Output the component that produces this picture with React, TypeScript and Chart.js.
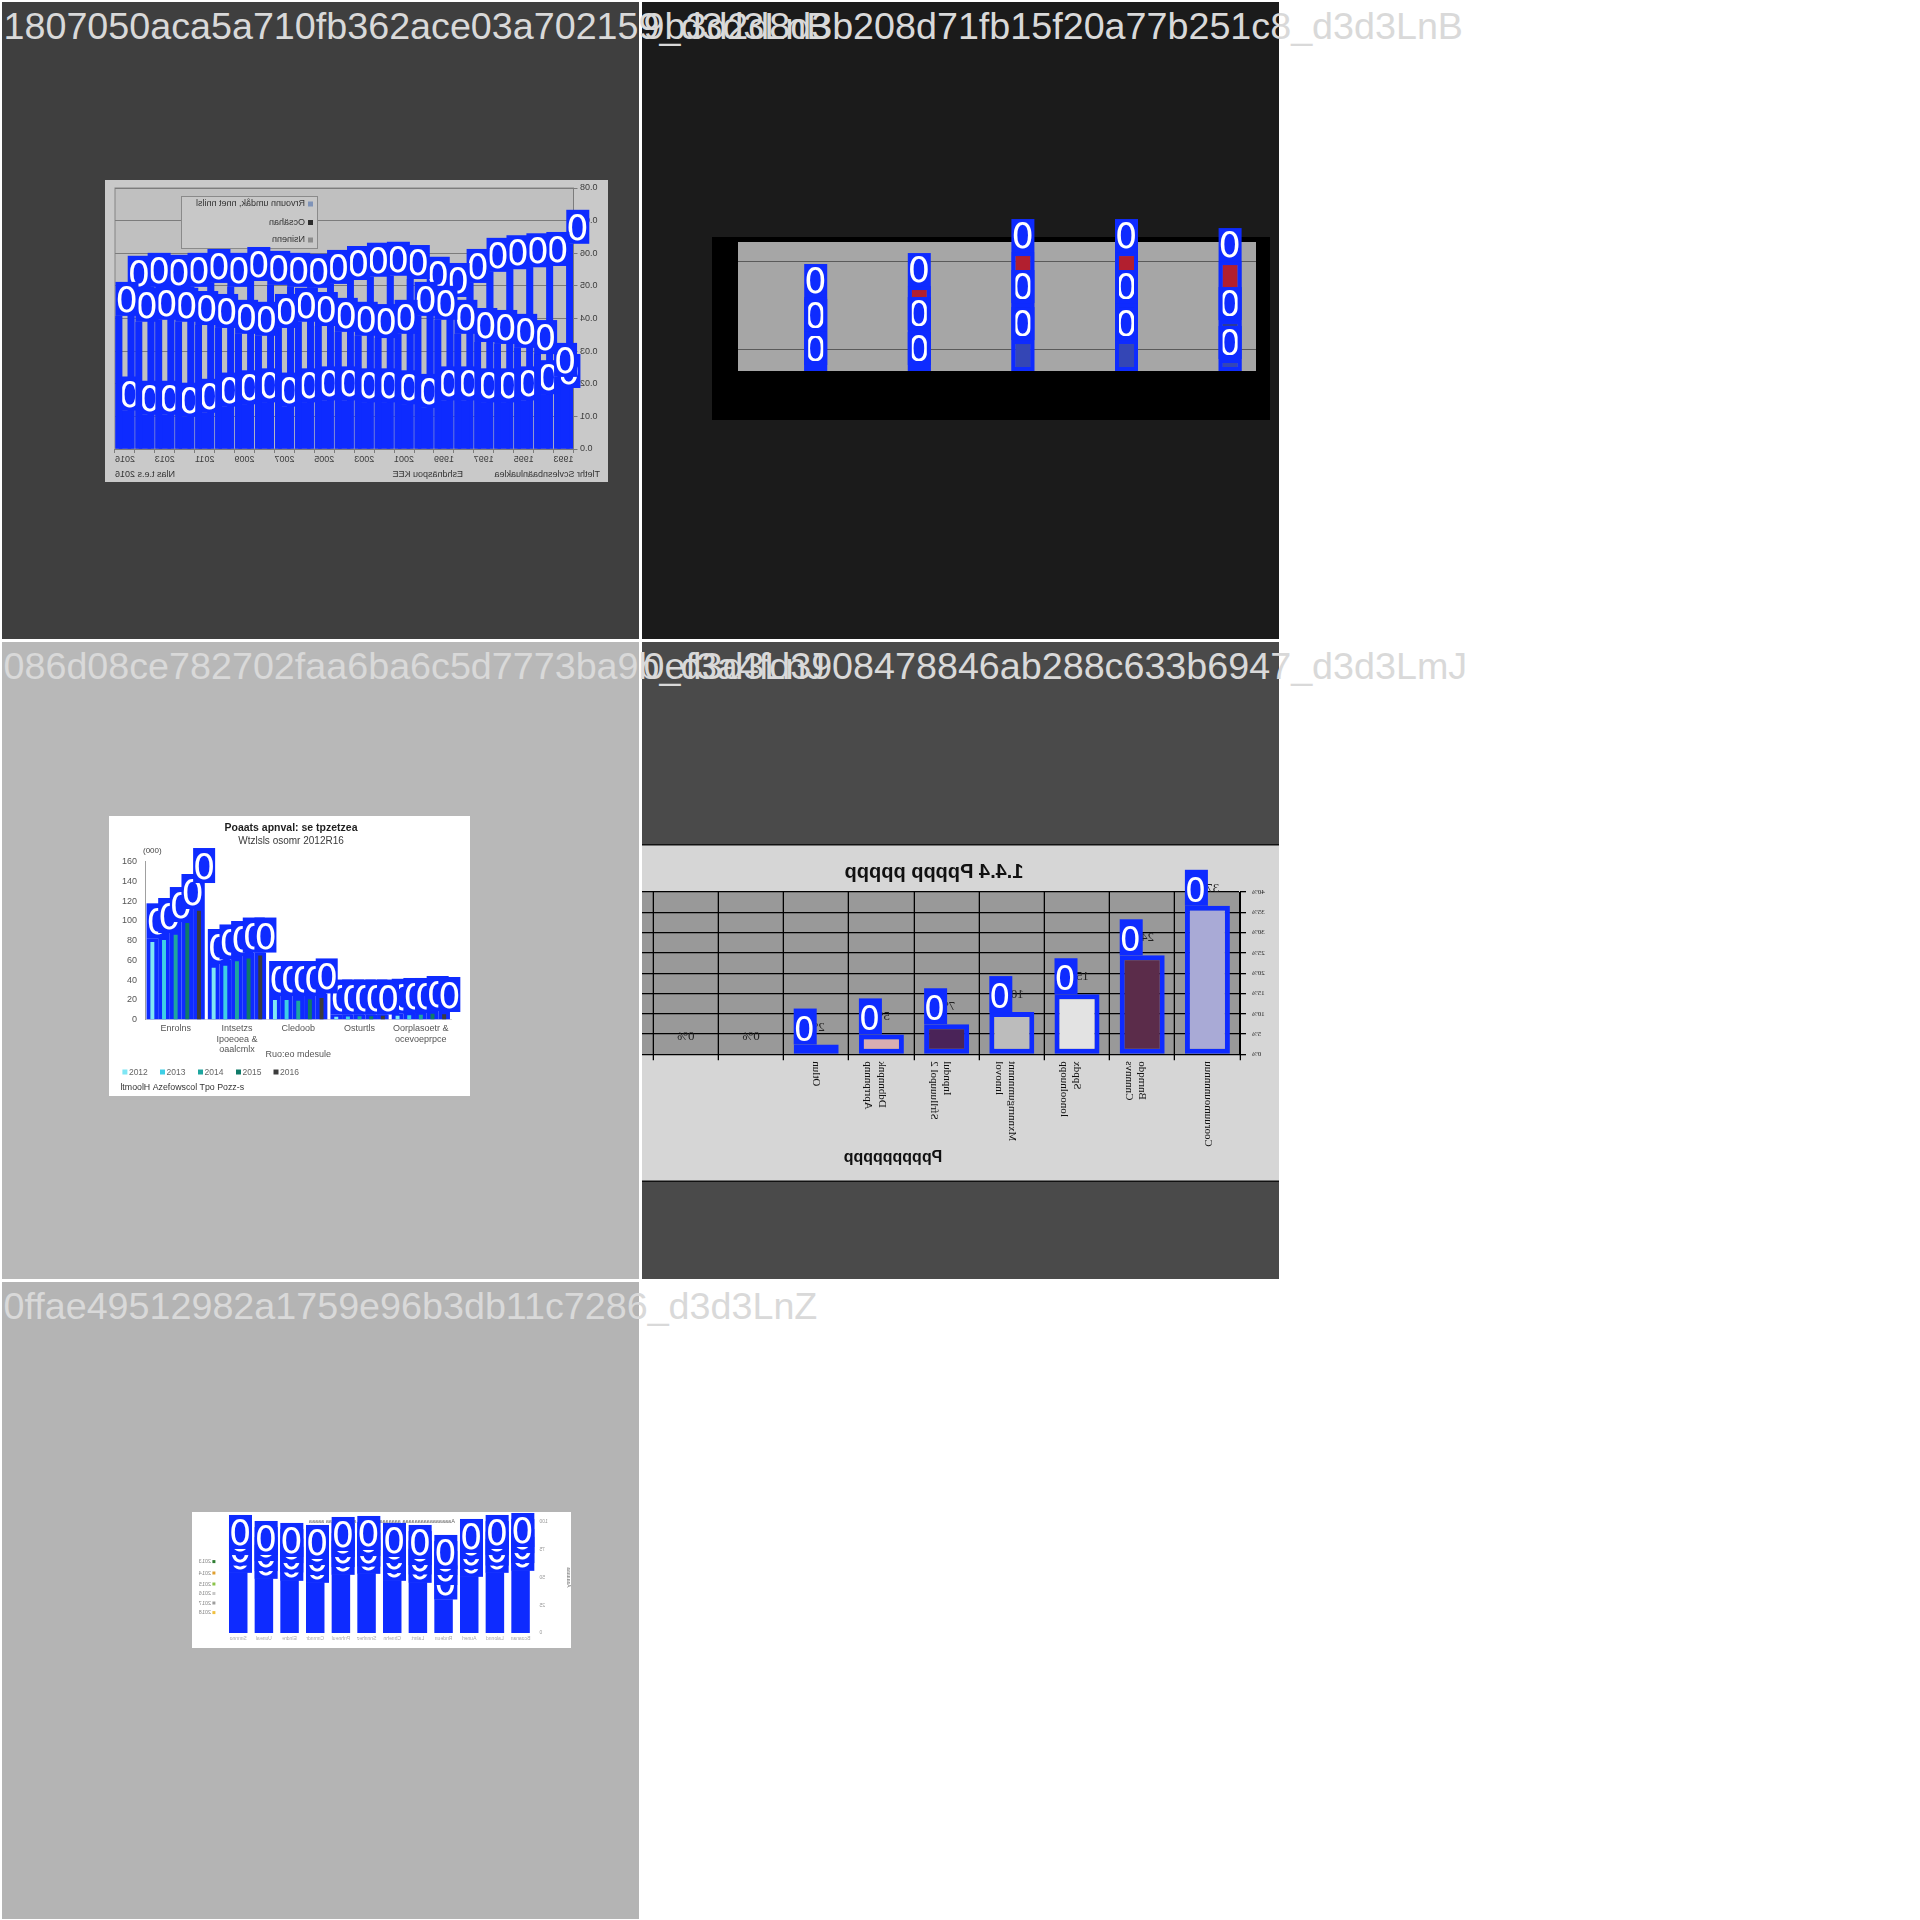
import React, { useEffect, useRef } from "react";
import { Chart, registerables } from "chart.js";

Chart.register(...registerables);

const BLUE = "#0e2bff";
const ZERO_FONT = '"DejaVu Sans", sans-serif';
const SANS = '"Liberation Sans", Arial, sans-serif';
const SERIF = '"Liberation Serif", "Times New Roman", serif';
Chart.defaults.font.family = SANS;

// ---------------- page ----------------
const TILE_TITLES = [
  "1807050aca5a710fb362ace03a702159_d3d3LnB",
  "9b3d2d8d3b208d71fb15f20a77b251c8_d3d3LnB",
  "086d08ce782702faa6ba6c5d7773ba9b_d3d3LnJ",
  "0ef3a4fd3908478846ab288c633b6947_d3d3LmJ",
  "0ffae49512982a1759e96b3db11c7286_d3d3LnZ",
];
const TILE_BACKGROUNDS = ["#3f3f3f", "#1b1b1b", "#b8b8b8", "#4a4a4a", "#b4b4b4"];

// ---------------- tile 1 ----------------
const T1_YEARS = ["1993", "1994", "1995", "1996", "1997", "1998", "1999", "2000", "2001", "2002", "2003", "2004", "2005", "2006", "2007", "2008", "2009", "2010", "2011", "2012", "2013", "2014", "2016"];
const T1_LEGEND = ["Rrvounn umdåk, nnet nnilsl", "Ocsähan", "Nsinenn"];
const T1_LEGEND_COLORS = ["#7f93b8", "#2b2b2b", "#8c8c8c"];
const T1_TOP_SERIES = [0.0629, 0.0561, 0.0557, 0.0551, 0.0543, 0.0509, 0.0466, 0.0485, 0.0521, 0.0531, 0.0528, 0.0518, 0.0506, 0.0494, 0.0497, 0.0503, 0.0515, 0.0497, 0.0509, 0.0497, 0.0491, 0.0497, 0.0488];
const T1_MID_SERIES = [0.0221, 0.0291, 0.031, 0.0322, 0.0328, 0.0353, 0.0396, 0.0408, 0.0353, 0.034, 0.0347, 0.0359, 0.0377, 0.039, 0.0371, 0.0347, 0.0353, 0.0371, 0.038, 0.039, 0.0396, 0.039, 0.0408];
const T1_LOW_SERIES = [0.0187, 0.0168, 0.0149, 0.0143, 0.0143, 0.0149, 0.0149, 0.0126, 0.0137, 0.0143, 0.0143, 0.0149, 0.0149, 0.0143, 0.013, 0.0143, 0.0137, 0.013, 0.0111, 0.0099, 0.0105, 0.0105, 0.0118];
const T1_NOTES = ["Nlas t.e.s 2016", "Eshdnäspou KEE", "Tlethr Scvlesnbaänluaklea"];

// ---------------- tile 2 ----------------
const T2_CATS = ["1", "2", "3", "4", "5"];
const T2_EMPTY = [0, 0, 0, 0, 0];
const T2_BOTTOM = [4.65, 4.65, 24.0, 24.0, 9.3];
const T2_MIDDLE = [25.6, 27.1, 28.7, 28.7, 30.2];
const T2_TOP = [27.1, 34.1, 39.5, 39.5, 45.7];
const T2_GRID = [16.3, 84.5];

// ---------------- tile 3 ----------------
const T3_TITLE = "Poaats apnval: se tpzetzea";
const T3_SUBTITLE = "Wtzlsls osomr 2012R16";
const T3_UNIT = "(000)";
const T3_X_TITLE = "Ruo:eo mdesule";
const T3_SOURCE = "ltmoolH Azefowscol Tpo Pozz-s";
const T3_CATS = [["Enrolns"], ["Intsetzs", "Ipoeoea &", "oaalcmlx"], ["Cledoob"], ["Osturtls"], ["Oorplasoetr &", "ocevoeprpce"]];
const T3_YEARS = ["2012", "2013", "2014", "2015", "2016"];
const T3_COLORS = ["#7fe6f4", "#3ecfe6", "#1ea69f", "#107a68", "#3c3c3c"];
const T3_2012 = [78.6, 52.5, 19.8, 3.0, 4.0];
const T3_2013 = [80.6, 54.6, 19.8, 3.2, 4.5];
const T3_2014 = [86.0, 59.1, 19.0, 3.5, 5.0];
const T3_2015 = [97.8, 62.0, 20.7, 3.5, 6.0];
const T3_2016 = [110.2, 64.9, 21.9, 4.0, 5.5];
const T3_BOX_2012 = [82.3, 56.3, 23.9, 5.1, 5.9];
const T3_BOX_2013 = [87.7, 60.9, 23.9, 5.1, 6.7];
const T3_BOX_2014 = [98.8, 64.4, 23.9, 5.1, 6.7];
const T3_BOX_2015 = [112.0, 67.9, 23.9, 5.1, 8.7];
const T3_BOX_2016 = [138.3, 67.9, 26.5, 5.1, 7.7];

// ---------------- tile 4 ----------------
const T4_TITLE = "1.4.4 Ppppp ppppp";
const T4_X_TITLE = "Pppppppppp";
const T4_CATS = [["Cooruumounnnnuu"], ["Bnrnqdo", "Cnnnnvs"], ["Sppdx", "lonoolnuopp"], ["Mxnnrngumnnnnt", "lnnovol"], ["Inpndul", "Sfrlluuupol 2"], ["Ddbnnpnk", "Aprrpnnnp"], ["Otlun"], [""], [""], [""]];
const T4_VALUES = [36.6, 24.4, 14.8, 10.4, 7.4, 4.9, 2.4, 0, 0, 0];
const T4_COLORS = ["#a9aad6", "#5b2c4a", "#e3e3e3", "#bcbcbc", "#4a2358", "#d8aeb2", "#4a78d8", "#999999", "#999999", "#999999"];

// ---------------- tile 5 ----------------
const T5_CATS = ["Bcoanan", "Lalonnd", "Aunerl", "Rndeun", "Lalnrt", "Cbnehn", "Snnnhez", "Pnhneul", "Cnmndr", "Elndre", "Uuneal", "Snnnno"];
const T5_BASE = [56.0, 54.2, 50.6, 30.2, 45.2, 47.0, 53.3, 52.4, 45.2, 47.0, 48.8, 54.2];
const T5_SEG2 = [7.0, 6.5, 7.0, 13.0, 7.5, 7.0, 6.5, 7.0, 7.0, 7.5, 7.0, 6.5];
const T5_SEG3 = [9.0, 9.5, 9.0, 9.0, 8.5, 9.0, 9.5, 9.0, 9.0, 8.5, 9.0, 9.5];
const T5_SEG4 = [5.5, 5.5, 5.5, 5.5, 5.5, 5.5, 5.5, 5.5, 5.5, 5.5, 5.5, 5.5];
const T5_LEGEND = ["2013", "2014", "2015", "2016", "2017", "2018"];
const T5_LEGEND_COLORS = ["#2e7d32", "#e0a030", "#8bc34a", "#c8c8c8", "#9e9e9e", "#f0c040"];
const T5_TITLE = "Aaaaaaaaaaaaaaaaa aaaaaaaaaaaaaa aaaaaaaaaa aaaaa";
const T5_Y_TITLE = "Aaaaaaa";

// ---------------- helpers ----------------
function labelBoxesPlugin(o: { order: number[]; w?: number; h?: number; size?: number; mirror?: boolean; drawBars?: boolean; outlineAfter?: number }) {
  const w = o.w ?? 23;
  const h = o.h ?? 34;
  const size = o.size ?? 35;
  return {
    id: "labelBoxes",
    afterDatasetsDraw(chart: any) {
      const ctx = chart.ctx;
      ctx.save();
      const boxes: any[] = [];
      for (const di of o.order) {
        const ds = chart.data.datasets[di];
        const meta = chart.getDatasetMeta(di);
        meta.data.forEach((el: any, i: number) => {
          const v = ds.data[i];
          if (v === null || v === undefined || v === 0) return;
          const p = el.getProps(["x", "y", "base", "width"], true);
          const left = p.x - p.width / 2;
          const right = p.x + p.width / 2;
          const top = Math.min(p.y, p.base);
          const bottom = Math.max(p.y, p.base);
          boxes.push({ left, top, width: p.width, height: bottom - top });
          ctx.fillStyle = BLUE;
          if (o.drawBars) ctx.fillRect(left, top, p.width, bottom - top);
          const bx = o.mirror ? right - w : left;
          ctx.fillRect(bx, top - h, w, h);
          ctx.save();
          if (o.mirror) {
            ctx.translate(2 * bx + w, 0);
            ctx.scale(-1, 1);
          }
          ctx.fillStyle = "#ffffff";
          ctx.font = `${size}px ${ZERO_FONT}`;
          ctx.textAlign = "left";
          ctx.textBaseline = "alphabetic";
          ctx.fillText("0", bx, top - 4);
          ctx.restore();
        });
      }
      if (o.outlineAfter) {
        const lw = o.outlineAfter;
        ctx.strokeStyle = BLUE;
        ctx.lineWidth = lw;
        for (const b of boxes) {
          ctx.strokeRect(b.left + lw / 2, b.top + lw / 2, b.width - lw, b.height - lw);
        }
      }
      ctx.restore();
    },
  };
}

function putText(ctx: any, text: string, x: number, y: number, font: string, color: string, align: string = "left", baseline: string = "middle") {
  ctx.font = font;
  ctx.fillStyle = color;
  ctx.textAlign = align;
  ctx.textBaseline = baseline;
  ctx.fillText(text, x, y);
}

const base = { animation: false, responsive: false, devicePixelRatio: 1, events: [] as string[] };

type Spec = { left: number; top: number; width: number; height: number; mirror?: boolean; make: () => any };

// ---------------- chart specs ----------------
const SPEC1: Spec = {
  left: 103, top: 178, width: 503, height: 302, mirror: true,
  make: () => ({
    type: "bar",
    data: {
      labels: T1_YEARS,
      datasets: [
        { label: T1_LEGEND[0], data: T1_TOP_SERIES, backgroundColor: BLUE, barPercentage: 1.1, categoryPercentage: 0.92 },
        { label: T1_LEGEND[1], data: T1_LOW_SERIES, backgroundColor: BLUE, barPercentage: 2, categoryPercentage: 0.92 },
        { label: T1_LEGEND[2], data: T1_MID_SERIES, backgroundColor: BLUE, barPercentage: 1.1, categoryPercentage: 0.92 },
      ],
    },
    options: {
      ...base,
      layout: { padding: { left: 0, right: 10, top: 8, bottom: 0 } },
      plugins: { legend: { display: false }, tooltip: { enabled: false } },
      scales: {
        x: {
          grid: { drawOnChartArea: false, tickLength: 4, color: "#7c7c7c", offset: true },
          border: { color: "#7c7c7c" },
          ticks: { autoSkip: false, maxRotation: 0, minRotation: 0, padding: 1, color: "#3c3c3c", font: { family: SANS, size: 9 }, callback: (_v: any, i: number) => (i % 2 === 0 ? T1_YEARS[i] : "") },
          afterFit: (s: any) => { s.height = 33; },
        },
        y: {
          min: 0, max: 0.08,
          ticks: { stepSize: 0.01, padding: 2.5, color: "#3c3c3c", font: { family: SANS, size: 9 }, callback: (v: any) => (v === 0 ? "0.0" : Number(v).toFixed(2)) },
          grid: { color: "#7c7c7c", tickLength: 4 },
          border: { color: "#7c7c7c" },
          afterFit: (s: any) => { s.width = 34.5; },
        },
      },
    },
    plugins: [
      {
        id: "t1decor",
        beforeDraw(chart: any) {
          const { ctx, width, height, chartArea: a } = chart;
          ctx.save();
          ctx.fillStyle = "#c9c9c9";
          ctx.fillRect(0, 0, width, height);
          ctx.fillStyle = "#c0c0c0";
          ctx.fillRect(a.left, a.top, a.right - a.left, a.bottom - a.top);
          ctx.strokeStyle = "#858585";
          ctx.lineWidth = 1;
          ctx.strokeRect(a.left, a.top, a.right - a.left, a.bottom - a.top);
          ctx.restore();
        },
        beforeDatasetsDraw(chart: any) {
          const ctx = chart.ctx;
          ctx.save();
          ctx.fillStyle = "#c8c8c8";
          ctx.fillRect(290, 16, 136, 52);
          ctx.strokeStyle = "#8a8a8a";
          ctx.strokeRect(290.5, 16.5, 136, 52);
          const ys = [24, 42.5, 60];
          T1_LEGEND.forEach((name, i) => {
            ctx.fillStyle = T1_LEGEND_COLORS[i];
            ctx.fillRect(295, ys[i] - 2.5, 5, 5);
            putText(ctx, name, 303, ys[i], `9px ${SANS}`, "#333");
          });
          ctx.restore();
        },
        afterDraw(chart: any) {
          const ctx = chart.ctx;
          ctx.save();
          putText(ctx, T1_NOTES[0], 493, 295, `9px ${SANS}`, "#333", "right");
          putText(ctx, T1_NOTES[1], 145, 295, `9px ${SANS}`, "#333", "left");
          putText(ctx, T1_NOTES[2], 8, 295, `9px ${SANS}`, "#333", "left");
          ctx.restore();
        },
      },
      labelBoxesPlugin({ order: [0, 1, 2], mirror: true, drawBars: true }),
    ],
  }),
};

const SPEC2: Spec = {
  left: 58, top: 198, width: 580, height: 225,
  make: () => {
    const seg = { stack: "b", borderColor: BLUE, borderWidth: 4, borderSkipped: false };
    return {
      type: "bar",
      data: {
        labels: T2_CATS,
        datasets: [
          { data: T2_EMPTY, stack: "a", backgroundColor: "rgba(0,0,0,0)" },
          { ...seg, data: T2_BOTTOM, backgroundColor: "#3446b5" },
          { ...seg, data: T2_MIDDLE, backgroundColor: "#2d3b98" },
          { ...seg, data: T2_TOP, backgroundColor: "#b21f2f" },
        ],
      },
      options: {
        ...base,
        datasets: { bar: { barPercentage: 0.444, categoryPercentage: 1 } },
        layout: { padding: { left: 38, right: 24, top: 42, bottom: 54 } },
        plugins: { legend: { display: false }, tooltip: { enabled: false } },
        scales: {
          x: { display: false, stacked: true },
          y: {
            stacked: true, min: 0, max: 100,
            ticks: { display: false },
            grid: { color: "#5a5a5a", drawTicks: false },
            border: { display: false },
            afterBuildTicks: (s: any) => { s.ticks = T2_GRID.map((v) => ({ value: v })); },
            afterFit: (s: any) => { s.width = 0; },
          },
        },
      },
      plugins: [
        {
          id: "t2decor",
          beforeDraw(chart: any) {
            const { ctx, chartArea: a } = chart;
            ctx.save();
            ctx.fillStyle = "#000";
            ctx.fillRect(a.left - 26, a.top - 5, a.right - a.left + 40, a.bottom - a.top + 54);
            ctx.fillStyle = "#a6a6a6";
            ctx.fillRect(a.left, a.top, a.right - a.left, a.bottom - a.top);
            ctx.restore();
          },
        },
        labelBoxesPlugin({ order: [3, 2, 1], w: 23, h: 33, outlineAfter: 4 }),
      ],
    };
  },
};

const SPEC3: Spec = {
  left: 107, top: 174, width: 361, height: 280,
  make: () => {
    const under = [T3_2012, T3_2013, T3_2014, T3_2015, T3_2016].map((d, i) => ({
      label: T3_YEARS[i], data: d, backgroundColor: T3_COLORS[i], stack: "g" + i, barPercentage: 0.34, categoryPercentage: 0.95,
    }));
    const boxes = [T3_BOX_2012, T3_BOX_2013, T3_BOX_2014, T3_BOX_2015, T3_BOX_2016].map((d, i) => ({
      label: "box " + T3_YEARS[i], data: d, backgroundColor: BLUE, stack: "g" + i, barPercentage: 1, categoryPercentage: 0.95,
    }));
    return {
      type: "bar",
      data: { labels: T3_CATS, datasets: [...under, ...boxes] },
      options: {
        ...base,
        layout: { padding: { left: 0, right: 18.5, top: 45.6, bottom: 31.4 } },
        plugins: { legend: { display: false }, tooltip: { enabled: false } },
        scales: {
          x: {
            grid: { display: false, drawTicks: false },
            border: { display: true, color: "#d9d9d9" },
            ticks: { autoSkip: false, maxRotation: 0, padding: 4, color: "#555", font: { family: SANS, size: 9, lineHeight: 1.15 } },
            title: { display: true, text: T3_X_TITLE, color: "#555", font: { family: SANS, size: 9 }, padding: { top: 0, bottom: 4.2 } },
            afterFit: (s: any) => { s.height = 45; },
          },
          y: {
            stacked: false,
            min: 0, max: 160,
            ticks: { stepSize: 20, padding: 8, color: "#555", font: { family: SANS, size: 9 } },
            grid: { display: false, drawTicks: false },
            border: { display: true, color: "#a0a0a0" },
            afterFit: (s: any) => { s.width = 36; },
          },
        },
      },
      plugins: [
        {
          id: "t3decor",
          beforeDraw(chart: any) {
            const { ctx, width, height } = chart;
            ctx.save();
            ctx.fillStyle = "#ffffff";
            ctx.fillRect(0, 0, width, height);
            putText(ctx, T3_TITLE, 182, 12.6, `bold 10.5px ${SANS}`, "#1e1e1e", "center");
            putText(ctx, T3_SUBTITLE, 182, 25, `10px ${SANS}`, "#3a3a3a", "center");
            putText(ctx, T3_UNIT, 43.3, 35, `8px ${SANS}`, "#444", "center");
            const xs = [13.4, 51, 89, 127, 164.5];
            T3_YEARS.forEach((y, i) => {
              ctx.fillStyle = T3_COLORS[i];
              ctx.fillRect(xs[i], 253.5, 5, 5);
              putText(ctx, y, xs[i] + 6.5, 256.2, `8.5px ${SANS}`, "#666");
            });
            putText(ctx, T3_SOURCE, 11.4, 272, `8.8px ${SANS}`, "#333");
            ctx.restore();
          },
        },
        labelBoxesPlugin({ order: [5, 6, 7, 8, 9], w: 22, h: 35 }),
      ],
    };
  },
};

const SPEC4: Spec = {
  left: -62, top: 202, width: 700, height: 338, mirror: true,
  make: () => ({
    type: "bar",
    data: {
      labels: T4_CATS,
      datasets: [{ data: T4_VALUES, backgroundColor: T4_COLORS, borderColor: BLUE, borderWidth: 5, borderSkipped: false, barPercentage: 0.69, categoryPercentage: 1 }],
    },
    options: {
      ...base,
      layout: { padding: { left: 0, right: 8, top: 0, bottom: 0 } },
      plugins: {
        legend: { display: false }, tooltip: { enabled: false },
        title: { display: true, text: T4_TITLE, color: "#111", font: { family: SANS, size: 20, weight: "bold" }, padding: { top: 16, bottom: 8 } },
      },
      scales: {
        x: {
          grid: { color: "#000", lineWidth: 1.3, tickLength: 6, offset: true },
          border: { color: "#000" },
          ticks: { autoSkip: false, minRotation: 90, maxRotation: 90, padding: 1, color: "#111", font: { family: SERIF, size: 11 } },
          afterFit: (s: any) => { s.height = 127.7; },
        },
        y: {
          min: 0, max: 40,
          ticks: { stepSize: 5, padding: 6, color: "#222", font: { family: SERIF, size: 7 }, callback: (v: any) => v + "%" },
          grid: { color: "#000", lineWidth: 1.3, tickLength: 6 },
          border: { color: "#000" },
          afterFit: (s: any) => { s.width = 40; },
        },
      },
    },
    plugins: [
      {
        id: "t4decor",
        beforeDraw(chart: any) {
          const { ctx, width, height, chartArea: a } = chart;
          ctx.save();
          ctx.fillStyle = "#d6d6d6";
          ctx.fillRect(0, 0, width, height);
          ctx.fillStyle = "#999999";
          ctx.fillRect(a.left, a.top, a.right - a.left, a.bottom - a.top);
          ctx.fillStyle = "#111";
          ctx.fillRect(0, 0, width, 1.5);
          ctx.fillRect(0, height - 1.5, width, 1.5);
          ctx.restore();
        },
        afterDatasetsDraw(chart: any) {
          const ctx = chart.ctx;
          ctx.save();
          chart.getDatasetMeta(0).data.forEach((el: any, i: number) => {
            const v = T4_VALUES[i];
            putText(ctx, `${Math.round(v)}%`, el.x, el.y - 14, `13px ${SERIF}`, "#222", "center", "alphabetic");
          });
          ctx.restore();
        },
        afterDraw(chart: any) {
          const ctx = chart.ctx;
          ctx.save();
          putText(ctx, T4_X_TITLE, 387, 313.5, `bold 16px ${SANS}`, "#111", "center");
          ctx.restore();
        },
      },
      labelBoxesPlugin({ order: [0], mirror: true, w: 23, h: 36, size: 33 }),
    ],
  }),
};

const SPEC5: Spec = {
  left: 190, top: 230, width: 379, height: 136, mirror: true,
  make: () => ({
    type: "bar",
    data: {
      labels: T5_CATS,
      datasets: [T5_BASE, T5_SEG2, T5_SEG3, T5_SEG4].map((d, i) => ({
        label: "s" + i, data: d, backgroundColor: BLUE, barPercentage: 0.72, categoryPercentage: 1,
      })),
    },
    options: {
      ...base,
      layout: { padding: { left: 0, right: 33.4, top: 10, bottom: 0 } },
      plugins: { legend: { display: false }, tooltip: { enabled: false } },
      scales: {
        x: {
          stacked: true,
          grid: { display: false, drawTicks: false },
          border: { display: false },
          ticks: { autoSkip: false, maxRotation: 0, padding: 3, color: "#aaa", font: { family: SANS, size: 5 } },
          afterFit: (s: any) => { s.height = 15; },
        },
        y: {
          stacked: true, min: 0, max: 100,
          grid: { display: false, drawTicks: false },
          border: { display: false },
          ticks: { stepSize: 25, padding: 6, color: "#999", font: { family: SANS, size: 5 } },
          title: { display: true, text: T5_Y_TITLE, color: "#777", font: { family: SANS, size: 5 }, padding: { top: 0, bottom: 4 } },
          afterFit: (s: any) => { s.width = 37.6; },
        },
      },
    },
    plugins: [
      {
        id: "t5decor",
        beforeDraw(chart: any) {
          const { ctx, width, height } = chart;
          ctx.save();
          ctx.fillStyle = "#ffffff";
          ctx.fillRect(0, 0, width, height);
          putText(ctx, T5_TITLE, 189, 9, `5.5px ${SANS}`, "#666", "center");
          const ys = [49.6, 61, 72, 81.5, 91, 100.6];
          T5_LEGEND.forEach((name, i) => {
            ctx.fillStyle = T5_LEGEND_COLORS[i];
            ctx.fillRect(355.6, ys[i] - 1.5, 3, 3);
            putText(ctx, name, 360, ys[i], `5.5px ${SANS}`, "#888");
          });
          ctx.restore();
        },
      },
      labelBoxesPlugin({ order: [0, 1, 2, 3], mirror: true, w: 23, h: 34 }),
    ],
  }),
};

const SPECS: Spec[] = [SPEC1, SPEC2, SPEC3, SPEC4, SPEC5];

function ChartCanvas({ spec }: { spec: Spec }) {
  const ref = useRef<HTMLCanvasElement | null>(null);
  useEffect(() => {
    if (!ref.current) return;
    const chart = new Chart(ref.current, spec.make());
    return () => chart.destroy();
  }, [spec]);
  return (
    <canvas
      ref={ref}
      width={spec.width}
      height={spec.height}
      style={{
        position: "absolute",
        left: spec.left,
        top: spec.top,
        width: spec.width,
        height: spec.height,
        transform: spec.mirror ? "scaleX(-1)" : undefined,
      }}
    />
  );
}

export default function App() {
  return (
    <div style={{ position: "absolute", left: 0, top: 0, width: 1920, height: 1920, background: "#ffffff", overflow: "hidden" }}>
      {SPECS.map((spec, i) => {
        const col = i % 2;
        const row = Math.floor(i / 2);
        return (
          <div
            key={"tile" + i}
            style={{
              position: "absolute",
              left: col * 640 + 2,
              top: row * 640 + 2,
              width: 637,
              height: 637,
              background: TILE_BACKGROUNDS[i],
              overflow: "hidden",
            }}
          >
            <ChartCanvas spec={spec} />
          </div>
        );
      })}
      {TILE_TITLES.map((t, i) => {
        const col = i % 2;
        const row = Math.floor(i / 2);
        return (
          <div
            key={"title" + i}
            style={{
              position: "absolute",
              left: col * 640 + 3.5,
              top: row * 640 + 8.1,
              fontFamily: SANS,
              fontSize: 37.7,
              lineHeight: "37.7px",
              color: "#d9d9d9",
              whiteSpace: "nowrap",
            }}
          >
            {t}
          </div>
        );
      })}
    </div>
  );
}
